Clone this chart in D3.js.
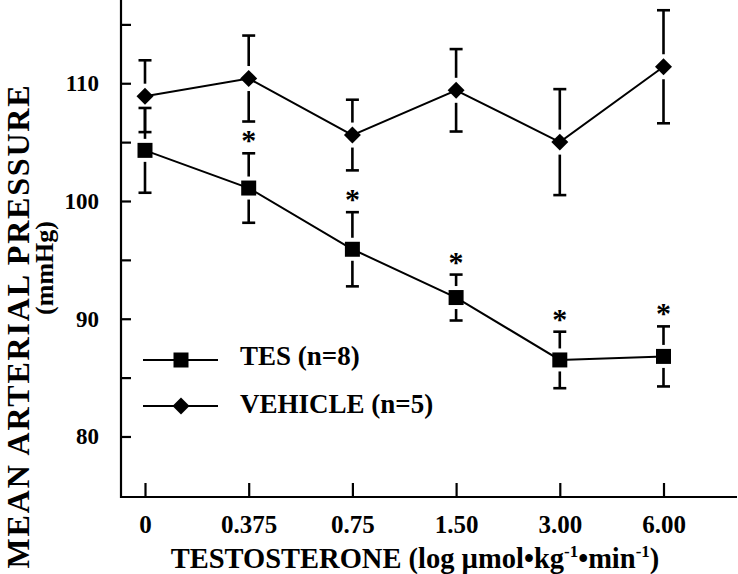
<!DOCTYPE html>
<html>
<head>
<meta charset="utf-8">
<script src="https://cdn.jsdelivr.net/npm/d3@7"></script>
<style>
  html, body { margin: 0; padding: 0; background: #fff; }
  svg { display: block; }
  text { font-family: "Liberation Serif", "Times New Roman", serif; font-weight: bold; fill: #000; }
</style>
</head>
<body>
<script>
// ---- data ----
const categories = ["0", "0.375", "0.75", "1.50", "3.00", "6.00"];
const tesValues = [104.3, 101.1, 95.9, 91.8, 86.5, 86.8];
const tesErrors = [3.6, 2.95, 3.15, 1.95, 2.4, 2.55];
const vehicleValues = [108.9, 110.4, 105.6, 109.4, 105.0, 111.4];
const vehicleErrors = [3.05, 3.65, 3.0, 3.5, 4.5, 4.8];
const tesSignificant = [false, true, true, true, true, true];
const yMajorTicks = [80, 90, 100, 110];
const yMinorTicks = [85, 95, 105, 115];
const seriesLabels = ["TES (n=8)", "VEHICLE (n=5)"];

const W = 738, H = 574;
const svg = d3.select("body").append("svg").attr("width", W).attr("height", H);

const axisLeftX = 121, axisBottomY = 497, axisRightX = 737;
const x = d3.scalePoint().domain(categories).range([145, 663.5]);
const y = d3.scaleLinear().domain([74.86, 117.07]).range([497, 0]);

// axes lines
svg.append("line").attr("x1", axisLeftX).attr("x2", axisLeftX).attr("y1", 0).attr("y2", axisBottomY + 1)
  .attr("stroke", "#000").attr("stroke-width", 2.2);
svg.append("line").attr("x1", axisLeftX - 1).attr("x2", axisRightX).attr("y1", axisBottomY).attr("y2", axisBottomY)
  .attr("stroke", "#000").attr("stroke-width", 2.2);

// y axis
const yAxis = svg.append("g").attr("transform", `translate(${axisLeftX},0)`)
  .call(d3.axisLeft(y).tickValues(yMajorTicks).tickSize(-10).tickPadding(22).tickFormat(d3.format("d")));
yAxis.attr("font-family", null).attr("font-size", null);
yAxis.select(".domain").remove();
yAxis.selectAll(".tick line").attr("stroke", "#000").attr("stroke-width", 2.2);
yAxis.selectAll(".tick text").style("font-size", "23px").style("font-family", "'Liberation Serif', serif").style("font-weight", "bold").attr("fill", "#000");
const yMinor = svg.append("g").attr("transform", `translate(${axisLeftX},0)`)
  .call(d3.axisLeft(y).tickValues(yMinorTicks).tickSize(-10).tickFormat(""));
yMinor.select(".domain").remove();
yMinor.selectAll(".tick line").attr("stroke", "#000").attr("stroke-width", 2.2);

// x axis
const xAxis = svg.append("g").attr("transform", `translate(0,${axisBottomY})`)
  .call(d3.axisBottom(x).tickSize(-14).tickPadding(36));
xAxis.attr("font-family", null).attr("font-size", null);
xAxis.select(".domain").remove();
xAxis.selectAll(".tick line").attr("stroke", "#000").attr("stroke-width", 2.2);
xAxis.selectAll(".tick text").style("font-size", "25px").style("font-family", "'Liberation Serif', serif").style("font-weight", "bold").attr("fill", "#000").attr("dy", 0);

// axis titles
const xt = svg.append("text").attr("x", 415).attr("y", 568).attr("text-anchor", "middle").style("font-size", "28.5px");
xt.append("tspan").text("TESTOSTERONE (log µmol•kg");
xt.append("tspan").text("-1").style("font-size", "17px").attr("dy", -11);
xt.append("tspan").text("•min").attr("dy", 11);
xt.append("tspan").text("-1").style("font-size", "17px").attr("dy", -11);
xt.append("tspan").text(")").attr("dy", 11);

svg.append("text").attr("transform", "translate(29,326) rotate(-90)").attr("text-anchor", "middle")
  .style("font-size", "32px").style("letter-spacing", "1.8px").text("MEAN ARTERIAL PRESSURE");
svg.append("text").attr("transform", "translate(53,268) rotate(-90)").attr("text-anchor", "middle")
  .style("font-size", "26px").text("(mmHg)");

// series
const squareSym = d3.symbol().type(d3.symbolSquare).size(225);
const diamondSym = d3.symbol().type(d3.symbolSquare).size(144);
const series = [
  { values: tesValues, errors: tesErrors, sym: squareSym, rot: 0, half: 7.5 },
  { values: vehicleValues, errors: vehicleErrors, sym: diamondSym, rot: 45, half: 8.5 }
];
const line = d3.line().x((d, i) => x(categories[i])).y(d => y(d));
const capW = 6.5, gap = 4;

series.forEach(s => {
  svg.append("path").attr("d", line(s.values)).attr("fill", "none").attr("stroke", "#000").attr("stroke-width", 2);
  const g = svg.append("g");
  s.values.forEach((v, i) => {
    const cx = x(categories[i]);
    const cy = y(v), top = y(v + s.errors[i]), bot = y(v - s.errors[i]);
    g.append("line").attr("x1", cx).attr("x2", cx).attr("y1", cy - s.half - gap).attr("y2", top)
      .attr("stroke", "#000").attr("stroke-width", 2.6);
    g.append("line").attr("x1", cx - capW).attr("x2", cx + capW).attr("y1", top).attr("y2", top)
      .attr("stroke", "#000").attr("stroke-width", 2.6);
    g.append("line").attr("x1", cx).attr("x2", cx).attr("y1", cy + s.half + gap).attr("y2", bot)
      .attr("stroke", "#000").attr("stroke-width", 2.6);
    g.append("line").attr("x1", cx - capW).attr("x2", cx + capW).attr("y1", bot).attr("y2", bot)
      .attr("stroke", "#000").attr("stroke-width", 2.6);
    g.append("path").attr("d", s.sym()).attr("transform", `translate(${cx},${cy}) rotate(${s.rot})`).attr("fill", "#000");
  });
});

// significance stars
tesValues.forEach((v, i) => {
  if (!tesSignificant[i]) return;
  const cx = x(categories[i]);
  const starCenter = y(v + tesErrors[i]) - 17;
  svg.append("text").attr("x", cx).attr("y", starCenter + 14).attr("text-anchor", "middle")
    .style("font-size", "30px").text("*");
});

// legend
const legendRows = [
  { label: seriesLabels[0], sym: squareSym, rot: 0, ly: 360, ty: 365 },
  { label: seriesLabels[1], sym: diamondSym, rot: 45, ly: 406, ty: 413 }
];
legendRows.forEach(r => {
  svg.append("line").attr("x1", 143).attr("x2", 218).attr("y1", r.ly).attr("y2", r.ly).attr("stroke", "#000").attr("stroke-width", 2.2);
  svg.append("path").attr("d", r.sym()).attr("transform", `translate(181,${r.ly}) rotate(${r.rot})`).attr("fill", "#000");
  svg.append("text").attr("x", 240).attr("y", r.ty).style("font-size", "27px").text(r.label);
});
</script>
</body>
</html>
